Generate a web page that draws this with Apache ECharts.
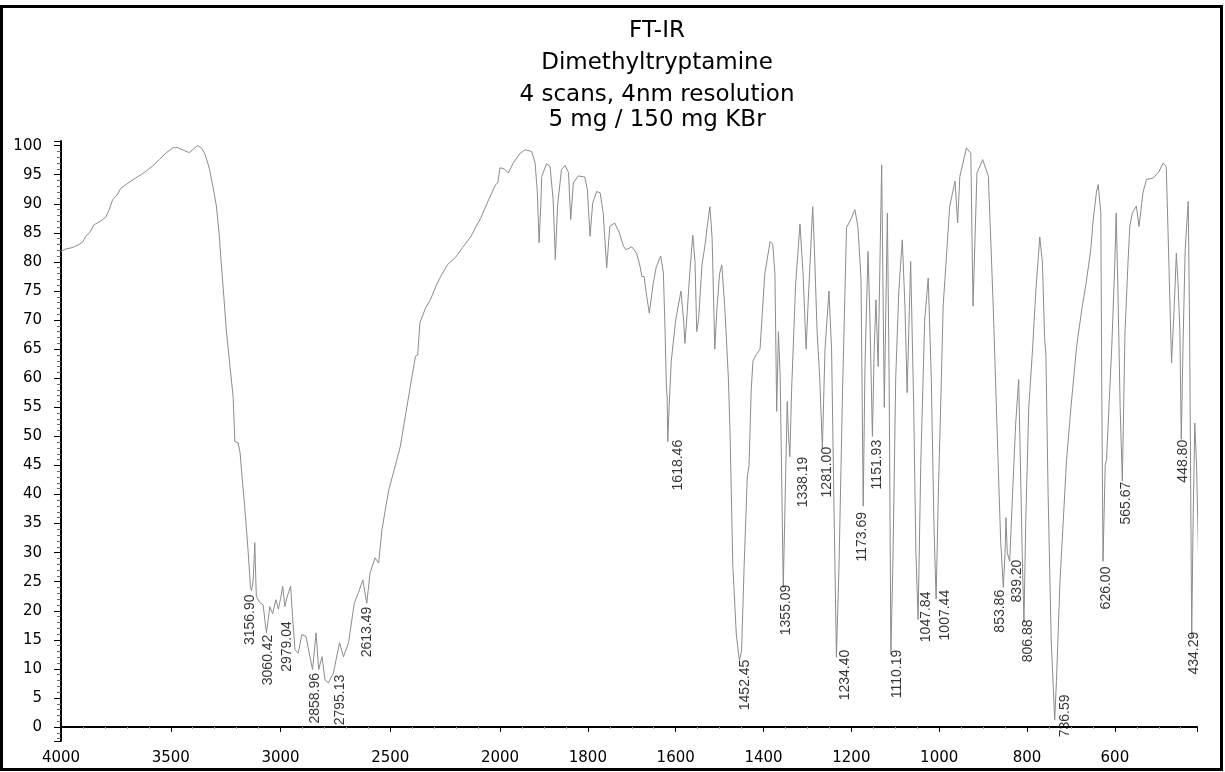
<!DOCTYPE html>
<html><head><meta charset="utf-8">
<script src="https://cdn.jsdelivr.net/npm/echarts@6/dist/echarts.min.js"></script>
<style>html,body{margin:0;padding:0;background:#fff}#c{width:1225px;height:772px}</style>
</head><body><div id="c"></div>
<script>
const titleLines = ['FT-IR', 'Dimethyltryptamine', '4 scans, 4nm resolution', '5 mg / 150 mg KBr'];

// 4000 - 2000 cm-1 segment
const wnHigh = [4000,3980,3956,3940,3918,3900,3887,3870,3849,3820,3796,3780,3765,3745,3727,3700,3674,3640,3613,3580,3552,3520,3491,3470,3453,3435,3415,3395,3377,3360,3346,3335,3323,3308,3292,3280,3270,3258,3247,3230,3216,3208,3193,3184,3175,3163,3148,3140,3137,3132,3125,3120,3117,3113,3110,3094,3079,3070,3064,3056,3049,3036,3021,3010,3000,2990,2980,2969,2954,2945,2934,2919,2903,2884,2869,2854,2838,2826,2811,2797,2782,2759,2731,2713,2690,2664,2645,2625,2607,2592,2569,2553,2538,2507,2480,2454,2420,2400,2385,2375,2365,2340,2317,2290,2270,2240,2202,2170,2134,2110,2088,2060,2042,2020,2010,2000];
const tHigh = [81.8,82.2,82.4,82.6,83.0,83.5,84.4,85.0,86.4,87.0,87.7,89.0,90.7,91.5,92.7,93.4,94.1,94.9,95.6,96.6,97.6,98.8,99.6,99.7,99.4,99.1,98.8,99.5,100.0,99.6,98.7,97.5,95.9,93.0,89.6,85.0,79.8,74.0,68.3,62.0,56.9,49.1,48.9,47.1,43.0,37.9,30.5,26.0,24.0,23.5,25.0,29.0,31.7,26.0,22.5,21.4,21.0,18.0,16.2,18.5,20.7,19.5,21.9,20.3,22.0,24.2,20.7,22.5,24.2,19.0,13.3,12.7,15.9,15.6,12.7,9.9,16.2,9.9,12.1,8.1,7.6,9.3,14.5,12.1,14.5,21.3,23.1,25.3,21.3,26.5,29.1,28.2,33.9,40.8,44.5,48.3,56.0,60.5,63.8,64.0,69.5,72.0,73.5,76.0,77.5,79.5,80.8,82.5,84.3,86.0,87.5,90.0,91.5,93.3,93.6,96.2];

// 2000 - 400 cm-1 segment
const wnLow = [2000,1990,1981,1970,1955,1943,1928,1920,1915,1911,1907,1905,1894,1886,1879,1874,1869,1860,1852,1844,1839,1833,1822,1807,1801,1795,1789,1780,1772,1765,1757,1750,1739,1728,1719,1713,1700,1689,1681,1677,1672,1666,1660,1651,1644,1634,1628,1624,1621,1619.5,1618,1615,1610,1600,1588,1582,1579,1575,1568,1561,1556,1552,1548,1540,1533,1525,1522,1517,1511,1506,1500,1495,1488,1480,1476,1470,1462,1455,1450,1444,1437,1433,1428,1424,1417,1408,1397,1385,1379,1374,1370,1366,1362,1355,1350,1346,1343,1340,1336,1327,1317,1310,1303,1299,1288,1284,1278,1272,1266,1260,1251,1245,1240,1234,1228,1220,1211,1200,1192,1185,1178,1173,1169,1162,1158,1152,1148,1144,1139,1131,1125,1118,1114,1110,1105,1099,1092,1084,1078,1073,1065,1058,1053,1048,1042,1033,1025,1018,1012,1007,1002,995,991,976,964,958,953,938,928,923,914,901,888,877,866,860,854,850,848,845,839.5,833,826,819,815,811,807,803,796,788,780,771,765,760,757,752,745,737,733,725,710,700,687,675,666,655,650,642,638,632,630,627,622,619,607,600,597,593,588,583,577,570,566,560,551,545,536,528,513,500,490,483,477,471,465,460,456,452,448.8,445,440,433,430,425,422,418,414,409,405,401,398];
const tLow = [96.2,96.0,95.3,97.0,98.6,99.3,99.0,97.0,92.0,83.3,90.0,94.7,96.9,96.4,90.7,80.4,89.6,95.9,96.6,95.4,87.3,93.6,94.8,94.6,92.4,84.4,90.1,92.1,91.9,88.4,79.0,86.1,86.7,85.0,82.7,82.1,82.6,81.5,79.2,77.5,77.5,74.1,71.2,76.4,79.2,81.0,78.1,67.8,58.0,57.0,49.1,55.0,63.0,70.0,75.0,70.0,66.0,70.0,78.0,84.6,80.0,68.0,70.0,79.5,83.0,88.0,89.5,84.0,65.0,72.0,78.0,79.5,72,60,50,28,16,11.5,13,28,43,45,58,63,64,65,78,83.5,83,78,54.3,68,60,24,42,56,50,46.5,58,76,86.5,78,65,72,89.5,82,68,60,48,65,75,65,40,12,28,58,85.9,87.5,89,86,77,38,62,81.8,71,50,65,73.5,62,96.7,55,88.4,60,12.5,30,60,75,83.8,72.4,57.5,80.1,55,30,18.5,45,70,77.2,60,35,22,40,60,72.4,89.6,93.9,86.7,94.7,99.6,98.7,72.4,95.3,97.6,94.7,72.4,46,32,24,30,36,30,28.5,40,52,59.8,45,30,18,35,55,64.3,75,84.3,80,67,64,40,15,1.2,8,25,46,55,65.5,72,76.1,82,86.7,92,93.3,88.5,60,28.5,45,46,65.5,80,88.4,75,55,42.3,67.8,80,86.1,88.5,89.6,86.1,91.9,94.2,94.4,95.5,97.0,96.4,79.8,62.6,72,81.5,76,68.3,49.5,65,82,90.4,70,15.5,35,52.3,45,27.5,30,47,22];

// peak annotations: text, wavenumber where the label sits, transmittance at label top
const peakText = ['3156.90','3060.42','2979.04','2858.96','2795.13','2613.49','1618.46','1452.45','1355.09','1338.19','1281.00','1234.40','1173.69','1151.93','1110.19','1047.84','1007.44','853.86','839.20','806.88','736.59','626.00','565.67','448.80','434.29'];
const peakLabelWn = [3140,3056,2972,2843,2728,2606,1594,1442,1349,1310,1256,1215,1176,1142,1096,1030,987,862,823,798,714,620,575,445,420];
const peakLabelT = [22.8,15.9,18.2,9.3,9.0,20.7,49.4,11.6,24.5,46.5,48.2,13.3,37.0,49.4,13.3,23.3,23.6,23.6,28.8,18.5,5.6,27.6,42.2,49.4,16.4];

const chart = echarts.init(document.getElementById('c'), null, {renderer: 'canvas'});
const highData = wnHigh.map((w, i) => [w, tHigh[i]]);
const lowData = wnLow.map((w, i) => [w, tLow[i]]);
const peaksHigh = [], peaksLow = [];
peakText.forEach((t, i) => {
  const item = {name: t, value: [peakLabelWn[i], peakLabelT[i]]};
  (peakLabelWn[i] >= 2000 ? peaksHigh : peaksLow).push(item);
});

const axisLabelStyle = {fontFamily: 'DejaVu Sans', fontSize: 15, color: '#000', formatter: v => String(v)};
const curveStyle = {color: '#8c8c8c', width: 1};
const peakLabel = {
  show: true, formatter: '{b}', rotate: 90, position: 'inside',
  align: 'right', verticalAlign: 'middle',
  fontFamily: "'Liberation Sans', Arial", fontSize: 14, color: '#000'
};
const yCommon = {
  type: 'value', min: -2.4, max: 100.8, splitNumber: 20,
  splitLine: {show: false}
};
const titleY = [31, 63, 95, 120];

chart.setOption({
  animation: false,
  backgroundColor: '#fff',
  graphic: [
    {type: 'rect', shape: {x: 1.5, y: 6.5, width: 1220, height: 763}, style: {fill: 'none', stroke: '#000', lineWidth: 3}, z: 100}
  ].concat(titleLines.map((t, i) => ({
    type: 'text', x: 657, y: titleY[i],
    style: {text: t, font: '23px "DejaVu Sans"', fill: '#000', align: 'center', verticalAlign: 'middle'}
  }))),
  grid: [
    {left: 61, top: 141, width: 439, bottom: 31},
    {left: 500, top: 141, right: 28, bottom: 31}
  ],
  xAxis: [
    {
      type: 'value', gridIndex: 0, min: 2000, max: 4000, interval: 500, inverse: true,
      axisLine: {lineStyle: {color: '#000', width: 2}},
      axisTick: {length: 5, lineStyle: {color: '#000', width: 1}},
      minorTick: {show: true, splitNumber: 5, length: 2, lineStyle: {color: '#aaa'}},
      axisLabel: Object.assign({margin: 10}, axisLabelStyle),
      splitLine: {show: false}
    },
    {
      type: 'value', gridIndex: 1, min: 413, max: 2000, splitNumber: 8, inverse: true,
      axisLine: {lineStyle: {color: '#000', width: 2}},
      axisTick: {length: 5, lineStyle: {color: '#000', width: 1}},
      minorTick: {show: true, splitNumber: 4, length: 2, lineStyle: {color: '#aaa'}},
      axisLabel: Object.assign({margin: 10, showMinLabel: false, showMaxLabel: false}, axisLabelStyle),
      splitLine: {show: false}
    }
  ],
  yAxis: [
    Object.assign({}, yCommon, {
      gridIndex: 0,
      axisLine: {show: true, lineStyle: {color: '#000', width: 2}},
      axisTick: {show: true, length: 7, lineStyle: {color: '#000', width: 1}},
      minorTick: {show: true, splitNumber: 5, length: 4, lineStyle: {color: '#666'}},
      axisLabel: Object.assign({margin: 19, showMinLabel: false, showMaxLabel: false}, axisLabelStyle)
    }),
    Object.assign({}, yCommon, {gridIndex: 1, show: false})
  ],
  series: [
    {type: 'line', xAxisIndex: 0, yAxisIndex: 0, data: highData, showSymbol: false, lineStyle: curveStyle, itemStyle: {color: '#8c8c8c'}},
    {type: 'line', xAxisIndex: 1, yAxisIndex: 1, data: lowData, showSymbol: false, clip: false, lineStyle: curveStyle, itemStyle: {color: '#8c8c8c'}},
    {type: 'scatter', xAxisIndex: 0, yAxisIndex: 0, data: peaksHigh, symbolSize: 0, label: peakLabel, z: 5},
    {type: 'scatter', xAxisIndex: 1, yAxisIndex: 1, data: peaksLow, symbolSize: 0, label: peakLabel, z: 5}
  ]
});
</script>
</body></html>
